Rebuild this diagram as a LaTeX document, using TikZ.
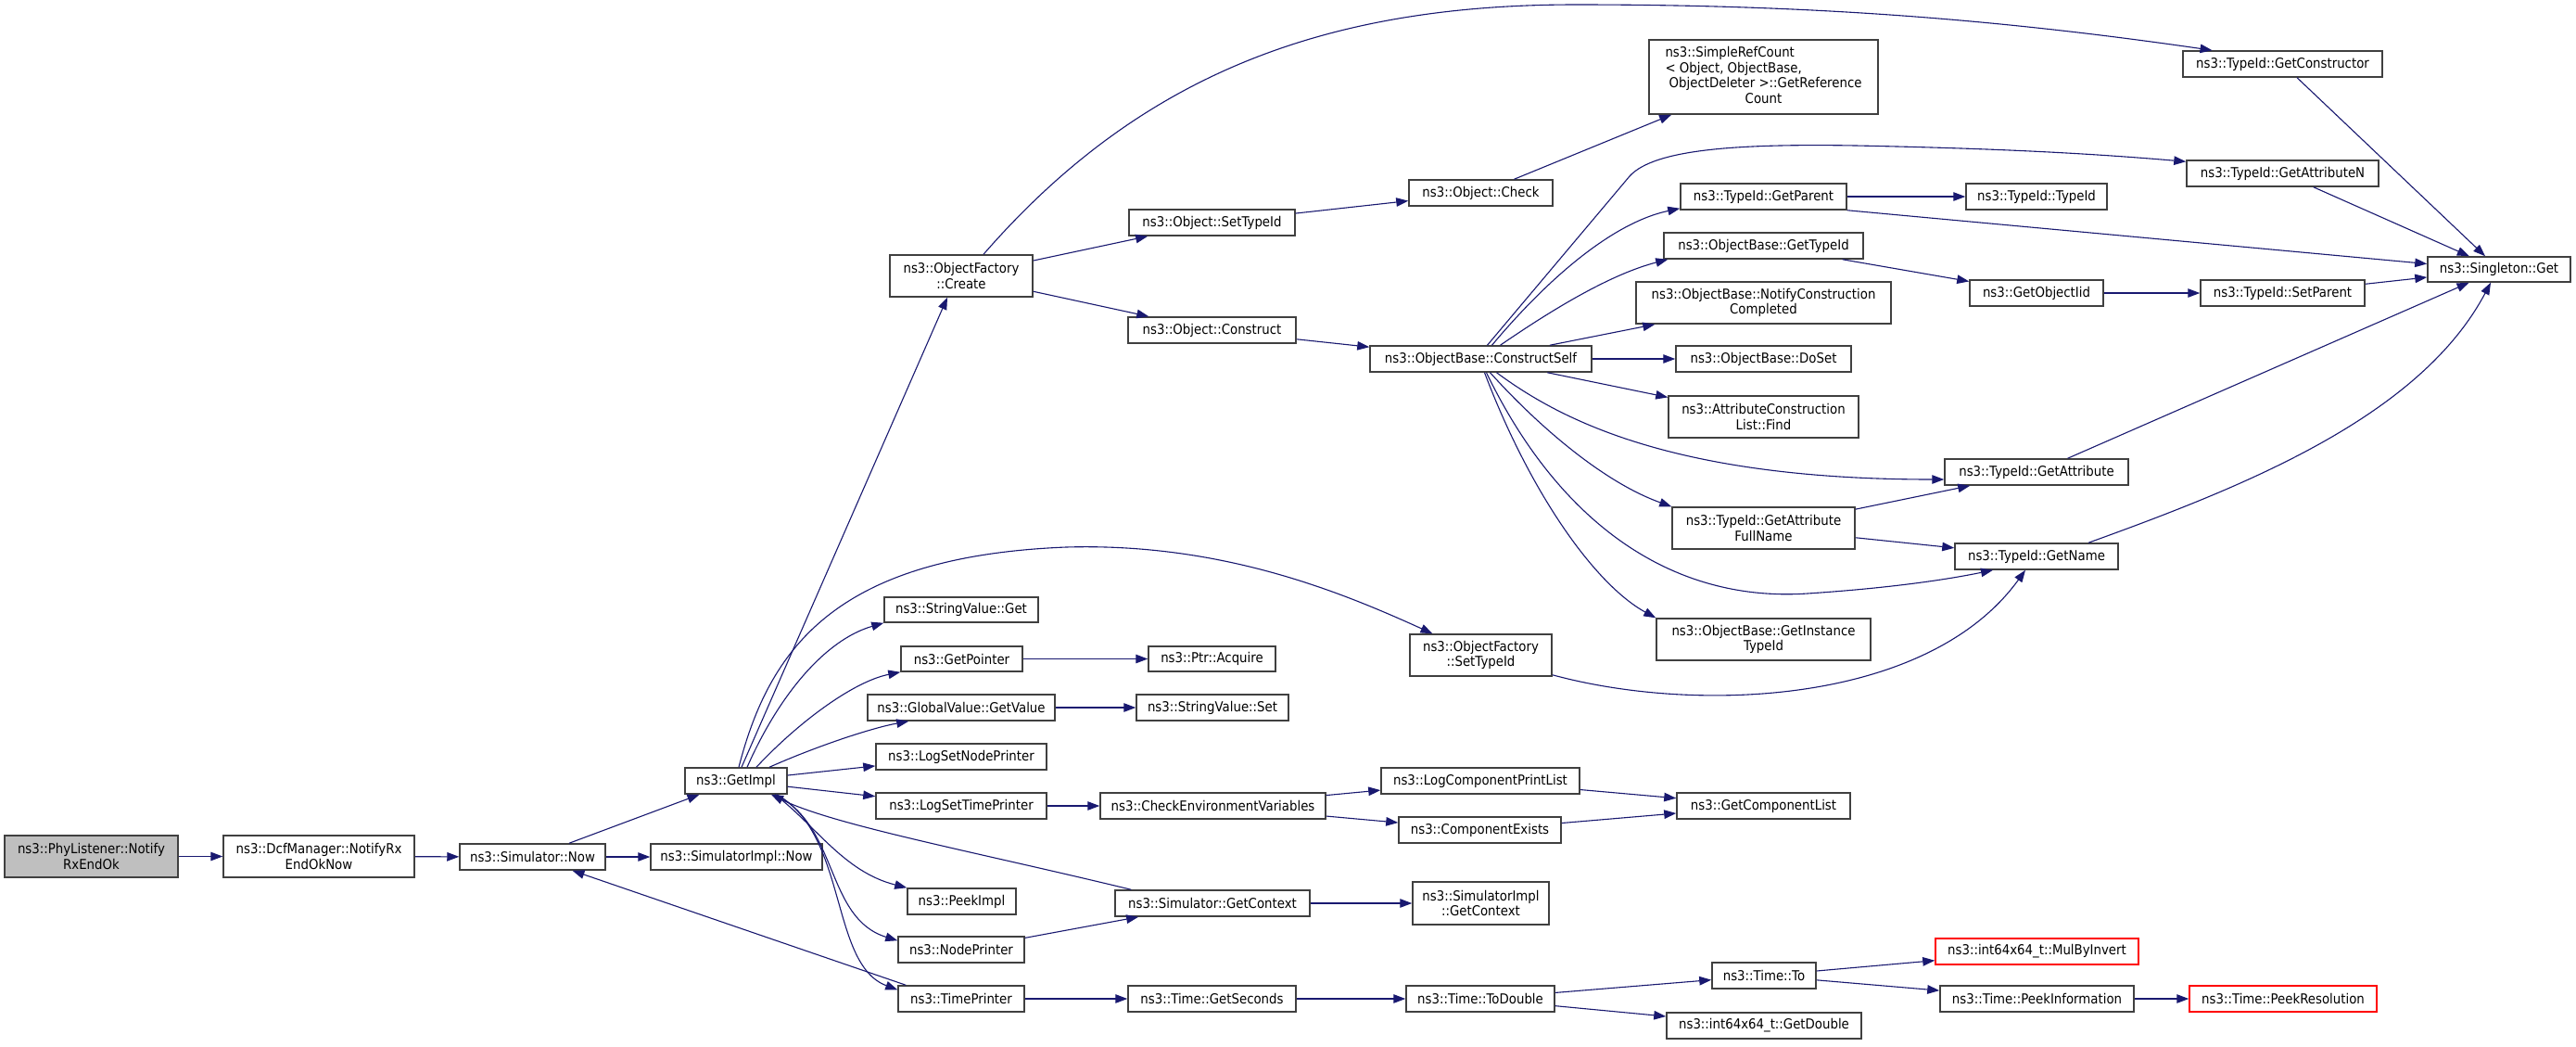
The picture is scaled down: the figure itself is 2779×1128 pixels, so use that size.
\documentclass[tikz,border=0pt]{standalone}
\usepackage{fontspec}
\setmainfont{DejaVu Sans}[FakeStretch=0.9]
\usetikzlibrary{arrows.meta}
\definecolor{edgec}{HTML}{191970}
\definecolor{rootfill}{HTML}{BFBFBF}
\tikzset{
  box/.style={draw=black!75, line width=1.5pt, fill=white, inner sep=0pt, align=center},
  rootbox/.style={fill=rootfill},
  redbox/.style={draw=red},
  call/.style={draw=edgec, line width=1.1pt, -{Triangle[length=13pt,width=9.5pt]}}
}
\newcommand{\bx}[7][]{\node[box,#1,minimum width={#5-#3},minimum height={#6-#4}] (#2) at ({(#3+#5)/2},{(#4+#6)/2}) {#7};}
\begin{document}
\begin{tikzpicture}[x=1pt,y=-1pt,font=\fontsize{14.8}{16.5}\selectfont]
\useasboundingbox[fill=white] (0,0) rectangle (2779,1128);
% nodes
\bx[rootbox]{phy}{5}{901}{192}{946}{ns3::PhyListener::Notify\\RxEndOk}
\bx{dcf}{241}{901}{447}{946}{ns3::DcfManager::NotifyRx\\EndOkNow}
\bx{now}{496}{910}{653}{938}{ns3::Simulator::Now}
\bx{simnow}{702}{910}{887}{938}{ns3::SimulatorImpl::Now}
\bx{gimpl}{739}{828}{849}{856}{ns3::GetImpl}
\bx{create}{960}{275}{1114}{320}{ns3::ObjectFactory\\::Create}
\bx{svget}{954}{644}{1120}{671}{ns3::StringValue::Get}
\bx{gptr}{972}{697}{1103}{724}{ns3::GetPointer}
\bx{acq}{1239}{697}{1376}{724}{ns3::Ptr::Acquire}
\bx{gvget}{936}{749}{1138}{777}{ns3::GlobalValue::GetValue}
\bx{svset}{1226}{749}{1390}{777}{ns3::StringValue::Set}
\bx{lsnp}{945}{802}{1129}{830}{ns3::LogSetNodePrinter}
\bx{lstp}{945}{855}{1129}{883}{ns3::LogSetTimePrinter}
\bx{cev}{1187}{855}{1430}{883}{ns3::CheckEnvironmentVariables}
\bx{peek}{979}{958}{1096}{986}{ns3::PeekImpl}
\bx{gctx}{1203}{960}{1413}{988}{ns3::Simulator::GetContext}
\bx{np}{969}{1010}{1105}{1038}{ns3::NodePrinter}
\bx{tp}{969}{1063}{1105}{1091}{ns3::TimePrinter}
\bx{gsec}{1217}{1063}{1398}{1091}{ns3::Time::GetSeconds}
\bx{lcpl}{1490}{828}{1704}{856}{ns3::LogComponentPrintList}
\bx{cex}{1509}{881}{1684}{909}{ns3::ComponentExists}
\bx{gcl}{1809}{855}{1996}{883}{ns3::GetComponentList}
\bx{sigc}{1524}{951}{1671}{997}{ns3::SimulatorImpl\\::GetContext}
\bx{todbl}{1517}{1063}{1677}{1091}{ns3::Time::ToDouble}
\bx{to}{1847}{1038}{1959}{1066}{ns3::Time::To}
\bx[redbox]{mbi}{2088}{1012}{2307}{1040}{ns3::int64x64\_t::MulByInvert}
\bx{pinfo}{2093}{1063}{2302}{1091}{ns3::Time::PeekInformation}
\bx[redbox]{pres}{2362}{1063}{2564}{1091}{ns3::Time::PeekResolution}
\bx{gdbl}{1798}{1092}{2008}{1120}{ns3::int64x64\_t::GetDouble}
\bx{osti}{1218}{226}{1397}{254}{ns3::Object::SetTypeId}
\bx{ocon}{1217}{342}{1398}{370}{ns3::Object::Construct}
\bx{chk}{1520}{194}{1675}{222}{ns3::Object::Check}
\bx{src}{1779}{43}{2026}{123}{\begin{tabular}{@{}l@{}}ns3::SimpleRefCount\\
  {<} Object, ObjectBase,\\
  \ ObjectDeleter {>}::GetReference\\
  \multicolumn{1}{@{}c@{}}{Count}\end{tabular}}
\bx{gpar}{1813}{198}{1992}{226}{ns3::TypeId::GetParent}
\bx{tid}{2121}{198}{2273}{226}{ns3::TypeId::TypeId}
\bx{obgti}{1795}{251}{2010}{279}{ns3::ObjectBase::GetTypeId}
\bx{nfc}{1765}{304}{2040}{349}{ns3::ObjectBase::NotifyConstruction\\Completed}
\bx{goi}{2125}{302}{2269}{330}{ns3::GetObjectIid}
\bx{cs}{1478}{373}{1717}{401}{ns3::ObjectBase::ConstructSelf}
\bx{doset}{1808}{373}{1997}{401}{ns3::ObjectBase::DoSet}
\bx{find}{1800}{427}{2005}{472}{ns3::AttributeConstruction\\List::Find}
\bx{gattr}{2098}{495}{2296}{523}{ns3::TypeId::GetAttribute}
\bx{fulln}{1804}{547}{2001}{592}{ns3::TypeId::GetAttribute\\FullName}
\bx{gname}{2109}{586}{2285}{614}{ns3::TypeId::GetName}
\bx{gitid}{1787}{667}{2018}{712}{ns3::ObjectBase::GetInstance\\TypeId}
\bx{ofst}{1521}{684}{1674}{729}{ns3::ObjectFactory\\::SetTypeId}
\bx{gctor}{2355}{55}{2570}{83}{ns3::TypeId::GetConstructor}
\bx{gattrn}{2359}{173}{2566}{201}{ns3::TypeId::GetAttributeN}
\bx{single}{2619}{277}{2773}{304}{ns3::Singleton::Get}
\bx{spar}{2374}{302}{2551}{330}{ns3::TypeId::SetParent}
% edges
\draw[call] (phy) -- (dcf);
\draw[call] (dcf) -- (now);
\draw[call] (now) -- (gimpl);
\draw[call] (now) -- (simnow);
\draw[call] ([xshift=9]tp.north west) -- (now);
\draw[call] ([xshift=6]gimpl.north) -- ([xshift=-15]create.south);
\draw[call] ([xshift=3]gimpl.north) .. controls (830,700) and (900,600) .. (1150,590) .. controls (1320,585) and (1450,640) .. ([xshift=-52]ofst.north);
\draw[call] ([xshift=12]gimpl.north) .. controls (840,750) and (890,690) .. (svget.south west);
\draw[call] ([xshift=22]gimpl.north) .. controls (860,780) and (920,735) .. (gptr.south west);
\draw[call] ([xshift=36]gimpl.north) .. controls (880,805) and (940,785) .. ([xshift=45]gvget.south west);
\draw[call] (gimpl) -- (lsnp);
\draw[call] (gimpl) -- (lstp);
\draw[call] ([xshift=42]gimpl.south) .. controls (880,890) and (910,940) .. (peek.north west);
\draw[call] ([xshift=42]gimpl.south) .. controls (905,890) and (890,990) .. ([yshift=-5]np.north west);
\draw[call] ([xshift=44]gimpl.south) .. controls (915,900) and (895,1040) .. ([yshift=-5]tp.north west);
\draw[call] ([xshift=18]gctx.north west) .. controls (1050,918) and (900,890) .. ([xshift=38]gimpl.south);
\draw[call] (np) -- (gctx);
\draw[call] (tp) -- (gsec);
\draw[call] (gptr) -- (acq);
\draw[call] (gvget) -- (svset);
\draw[call] (lstp) -- (cev);
\draw[call] (cev) -- (lcpl);
\draw[call] (cev) -- (cex);
\draw[call] (lcpl) -- (gcl);
\draw[call] (cex) -- (gcl);
\draw[call] (gctx) -- (sigc);
\draw[call] (gsec) -- (todbl);
\draw[call] (todbl) -- (to);
\draw[call] (todbl) -- (gdbl);
\draw[call] (to) -- (mbi);
\draw[call] (to) -- (pinfo);
\draw[call] (pinfo) -- (pres);
\draw[call] (create) -- (osti);
\draw[call] (create) -- (ocon);
\draw[call] ([xshift=24]create.north) .. controls (1230,80) and (1430,5) .. (1700,5) .. controls (1950,5) and (2150,20) .. ([xshift=-76]gctor.north);
\draw[call] (osti) -- (chk);
\draw[call] (chk) -- (src);
\draw[call] (ocon) -- (cs);
\draw[call] ([xshift=7]cs.north) -- (1758,190) .. controls (1785,160) and (1880,155) .. (2002,157) .. controls (2150,160) and (2250,165) .. ([yshift=-2]gattrn.north west);
\draw[call] ([xshift=12]cs.north) .. controls (1670,300) and (1740,240) .. ([yshift=2]gpar.south west);
\draw[call] ([xshift=21]cs.north) .. controls (1680,330) and (1740,295) .. ([xshift=5]obgti.south west);
\draw[call] (cs) -- (nfc);
\draw[call] (cs) -- (doset);
\draw[call] (cs) -- (find);
\draw[call] ([xshift=17]cs.south) .. controls (1680,450) and (1800,517) .. ([yshift=-8]gattr.west);
\draw[call] ([xshift=10]cs.south) .. controls (1660,460) and (1730,520) .. (fulln.north west);
\draw[call] ([xshift=6]cs.south) .. controls (1680,560) and (1800,650) .. (1950,640) .. controls (2040,634) and (2100,625) .. ([xshift=-47]gname.south);
\draw[call] ([xshift=4]cs.south) .. controls (1650,530) and (1720,630) .. (gitid.north west);
\draw[call] (fulln) -- (gattr);
\draw[call] (fulln) -- (gname);
\draw[call] ([yshift=2]ofst.south east) .. controls (1830,770) and (2080,760) .. ([xshift=-12]gname.south);
\draw[call] (gpar) -- (tid);
\draw[call] (gpar.south east) -- ([yshift=6]single.west);
\draw[call] (obgti) -- (goi);
\draw[call] (goi) -- (spar);
\draw[call] (spar) -- (single);
\draw[call] (gctor) -- (single);
\draw[call] (gattrn) -- (single);
\draw[call] (gattr) -- (single);
\draw[call] ([xshift=56]gname.north) .. controls (2420,525) and (2610,450) .. ([xshift=-9]single.south);
\end{tikzpicture}
\end{document}
